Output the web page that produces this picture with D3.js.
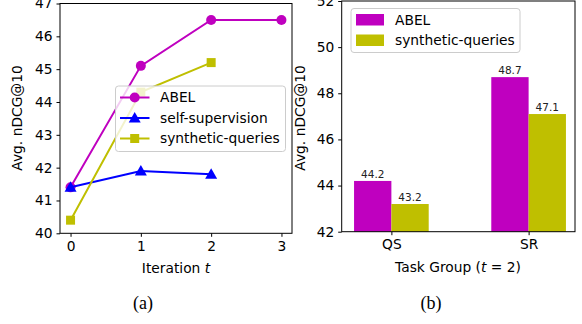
<!DOCTYPE html>
<html>
<head>
<meta charset="utf-8">
<script src="https://cdn.jsdelivr.net/npm/d3@7"></script>
<style>
  body { margin: 0; background: #fff; }
  text { font-family: "DejaVu Sans", sans-serif; fill: #000; }
</style>
</head>
<body>
<svg width="582" height="324"></svg>
<script>
// ---- data ----
var iterations = [0, 1, 2, 3];
var abel = [41.4, 45.1, 46.5, 46.5];
var selfSup = [41.4, 41.9, 41.8];
var synthQ = [40.4, 44.3, 45.2];
var lineTicksY = [40, 41, 42, 43, 44, 45, 46, 47];

var groups = ["QS", "SR"];
var barAbel = [44.2, 48.7];
var barSynth = [43.2, 47.1];
var barTicksY = [42, 44, 46, 48, 50, 52];

var MAG = "#bf00bf", YEL = "#bfbf00", BLU = "#0000ff";
var FS = "13.8px";

var svg = d3.select("svg");

// ---- left: line chart ----
var L = { x0: 60, x1: 292, y0: 3.5, y1: 233.3 };
var xl = d3.scaleLinear().domain([-0.15, 3.15]).range([L.x0, L.x1]);
var yl = d3.scaleLinear().domain([40, 47]).range([L.y1, L.y0]);

var gl = svg.append("g");

var series = [
    { name: "ABEL", vals: abel, color: MAG, marker: "circle" },
    { name: "self-supervision", vals: selfSup, color: BLU, marker: "triangle" },
    { name: "synthetic-queries", vals: synthQ, color: YEL, marker: "square" }
];

var line = d3.line()
    .x(function(d, i) { return xl(iterations[i]); })
    .y(function(d) { return yl(d); });

function drawMarker(g, type, x, y, color) {
    if (type === "circle") {
        g.append("circle").attr("cx", x).attr("cy", y).attr("r", 5).attr("fill", color);
    } else if (type === "triangle") {
        g.append("path")
            .attr("d", "M" + x + "," + (y - 6) + " L" + (x + 6) + "," + (y + 4.5) + " L" + (x - 6) + "," + (y + 4.5) + " Z")
            .attr("fill", color);
    } else {
        g.append("rect").attr("x", x - 4.5).attr("y", y - 4.5).attr("width", 9).attr("height", 9).attr("fill", color);
    }
}

series.forEach(function(s) {
    gl.append("path")
        .attr("d", line(s.vals))
        .attr("fill", "none")
        .attr("stroke", s.color)
        .attr("stroke-width", 2);
    s.vals.forEach(function(v, i) {
        drawMarker(gl, s.marker, xl(iterations[i]), yl(v), s.color);
    });
});

// axes
gl.append("g")
    .attr("transform", "translate(0," + L.y1 + ")")
    .call(d3.axisBottom(xl).tickValues(iterations).tickFormat(d3.format("d"))
        .tickSizeOuter(0).tickSize(3.5).tickPadding(4))
    .call(styleAxis);
gl.append("g")
    .attr("transform", "translate(" + L.x0 + ",0)")
    .call(d3.axisLeft(yl).tickValues(lineTicksY).tickFormat(d3.format("d"))
        .tickSizeOuter(0).tickSize(3.5).tickPadding(4))
    .call(styleAxis);
gl.append("rect")
    .attr("x", L.x0).attr("y", L.y0)
    .attr("width", L.x1 - L.x0).attr("height", L.y1 - L.y0)
    .attr("fill", "none").attr("stroke", "#000").attr("stroke-width", 1);

gl.append("text")
    .attr("transform", "translate(22,118) rotate(-90)")
    .attr("text-anchor", "middle")
    .style("font-size", FS)
    .text("Avg. nDCG@10");
var xlab = gl.append("text")
    .attr("x", 176).attr("y", 273)
    .attr("text-anchor", "middle")
    .style("font-size", FS);
xlab.append("tspan").text("Iteration ");
xlab.append("tspan").style("font-style", "italic").text("t");

// legend (left)
var lg = gl.append("g");
lg.append("rect")
    .attr("x", 115.5).attr("y", 86).attr("width", 170).attr("height", 65.5)
    .attr("rx", 3)
    .attr("fill", "#fff").attr("fill-opacity", 0.8)
    .attr("stroke", "#ccc").attr("stroke-width", 1);
series.forEach(function(s, i) {
    var cy = 97.5 + i * 20.5;
    lg.append("line")
        .attr("x1", 120).attr("x2", 149.5).attr("y1", cy).attr("y2", cy)
        .attr("stroke", s.color).attr("stroke-width", 2);
    drawMarker(lg, s.marker, 134.7, cy, s.color);
    lg.append("text")
        .attr("x", 160).attr("y", cy).attr("dy", "0.35em")
        .style("font-size", FS)
        .text(s.name);
});

// ---- right: bar chart ----
var R = { x0: 341.7, x1: 575, y0: 1, y1: 231.7 };
var bw = 0.272;
var xr = d3.scaleLinear().domain([-bw - 0.09, 1 + bw + 0.066]).range([R.x0, R.x1]);
var yr = d3.scaleLinear().domain([42, 52]).range([R.y1, R.y0]);

var gr = svg.append("g");

var barSeries = [
    { name: "ABEL", vals: barAbel, color: MAG, off: -bw },
    { name: "synthetic-queries", vals: barSynth, color: YEL, off: 0 }
];

barSeries.forEach(function(s) {
    gr.selectAll(null)
        .data(s.vals)
        .enter()
        .append("rect")
        .attr("x", function(d, i) { return xr(i + s.off); })
        .attr("width", function(d, i) { return xr(i + s.off + bw) - xr(i + s.off); })
        .attr("y", function(d) { return yr(d); })
        .attr("height", function(d) { return R.y1 - yr(d); })
        .attr("fill", s.color);
    gr.selectAll(null)
        .data(s.vals)
        .enter()
        .append("text")
        .attr("x", function(d, i) { return xr(i + s.off + bw / 2); })
        .attr("y", function(d) { return yr(d) - 3; })
        .attr("text-anchor", "middle")
        .style("font-size", "10.5px")
        .style("fill", "#222")
        .text(function(d) { return d.toFixed(1); });
});

gr.append("g")
    .attr("transform", "translate(0," + R.y1 + ")")
    .call(d3.axisBottom(xr).tickValues([0, 1]).tickFormat(function(d) { return groups[d]; })
        .tickSizeOuter(0).tickSize(3.5).tickPadding(4))
    .call(styleAxis);
gr.append("g")
    .attr("transform", "translate(" + R.x0 + ",0)")
    .call(d3.axisLeft(yr).tickValues(barTicksY).tickFormat(d3.format("d"))
        .tickSizeOuter(0).tickSize(3.5).tickPadding(4))
    .call(styleAxis);
gr.append("rect")
    .attr("x", R.x0).attr("y", R.y0)
    .attr("width", R.x1 - R.x0).attr("height", R.y1 - R.y0)
    .attr("fill", "none").attr("stroke", "#000").attr("stroke-width", 1);

gr.append("text")
    .attr("transform", "translate(305,118) rotate(-90)")
    .attr("text-anchor", "middle")
    .style("font-size", FS)
    .text("Avg. nDCG@10");
var xlab2 = gr.append("text")
    .attr("x", 458).attr("y", 272)
    .attr("text-anchor", "middle")
    .style("font-size", FS);
xlab2.append("tspan").text("Task Group (");
xlab2.append("tspan").style("font-style", "italic").text("t");
xlab2.append("tspan").text(" = 2)");

// legend (right)
var rg = gr.append("g");
rg.append("rect")
    .attr("x", 351).attr("y", 8.5).attr("width", 169).attr("height", 44)
    .attr("rx", 3)
    .attr("fill", "#fff").attr("fill-opacity", 0.8)
    .attr("stroke", "#ccc").attr("stroke-width", 1);
barSeries.forEach(function(s, i) {
    var cy = 20 + i * 20.5;
    rg.append("rect")
        .attr("x", 356).attr("y", cy - 6).attr("width", 28).attr("height", 11.5)
        .attr("fill", s.color);
    rg.append("text")
        .attr("x", 395).attr("y", cy).attr("dy", "0.35em")
        .style("font-size", FS)
        .text(s.name);
});

// captions
svg.append("text").attr("x", 143).attr("y", 309).attr("text-anchor", "middle")
    .style("font-family", "Liberation Serif, serif").style("font-size", "18px").text("(a)");
svg.append("text").attr("x", 431).attr("y", 309).attr("text-anchor", "middle")
    .style("font-family", "Liberation Serif, serif").style("font-size", "18px").text("(b)");

function styleAxis(g) {
    g.select(".domain").remove();
    g.selectAll(".tick line").attr("stroke", "#000");
    g.selectAll(".tick text")
        .style("font-family", "DejaVu Sans, sans-serif")
        .style("font-size", FS)
        .attr("fill", "#000");
}
</script>
</body>
</html>
